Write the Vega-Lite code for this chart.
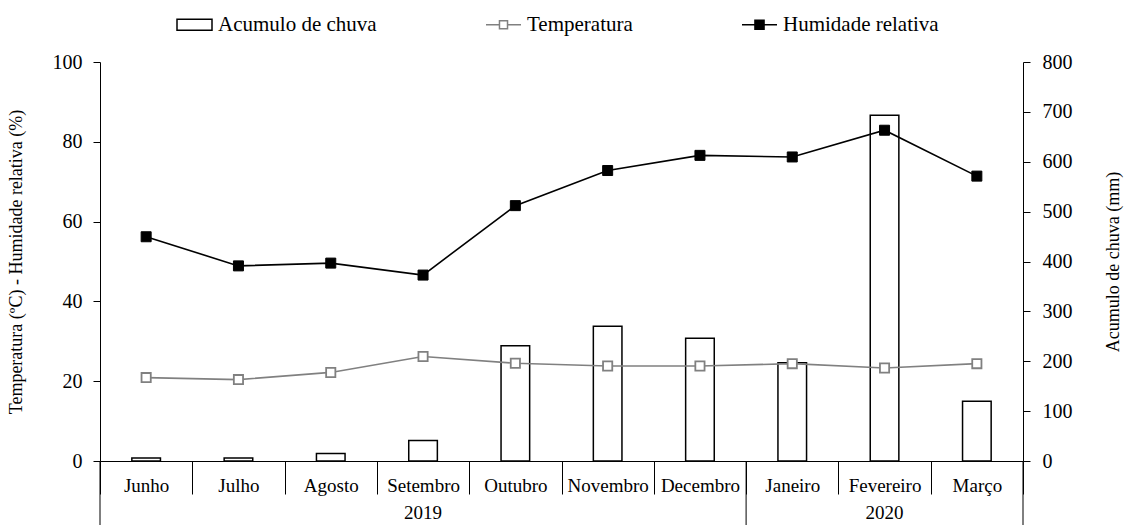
{
  "$schema": "https://vega.github.io/schema/vega-lite/v6.json",
  "width": 923,
  "height": 399,
  "autosize": "none",
  "padding": {"left": 100, "top": 62, "right": 103, "bottom": 64},
  "background": "white",
  "config": {
    "font": "Liberation Serif",
    "view": {"stroke": null},
    "axis": {
      "grid": false,
      "domainColor": "black",
      "domainWidth": 1,
      "tickColor": "black",
      "tickWidth": 1,
      "labelColor": "black",
      "titleColor": "black",
      "labelFont": "Liberation Serif",
      "titleFont": "Liberation Serif",
      "labelFontSize": 20,
      "titleFontSize": 18,
      "titleFontWeight": "normal"
    },
    "legend": {
      "title": null,
      "orient": "none",
      "legendX": 76,
      "legendY": -56,
      "direction": "horizontal",
      "symbolSize": 1225,
      "symbolStrokeWidth": 1.5,
      "labelFont": "Liberation Serif",
      "labelFontSize": 21,
      "labelColor": "black",
      "labelOffset": 5,
      "columnPadding": 106
    }
  },
  "data": {
    "values": [
      {"mes": "Junho", "ano": "2019", "chuva": 6, "Temperatura": 20.9, "Humidade relativa": 56.2},
      {"mes": "Julho", "ano": "2019", "chuva": 6, "Temperatura": 20.4, "Humidade relativa": 48.9},
      {"mes": "Agosto", "ano": "2019", "chuva": 15, "Temperatura": 22.2, "Humidade relativa": 49.6},
      {"mes": "Setembro", "ano": "2019", "chuva": 41, "Temperatura": 26.2, "Humidade relativa": 46.6},
      {"mes": "Outubro", "ano": "2019", "chuva": 231, "Temperatura": 24.5, "Humidade relativa": 64.0},
      {"mes": "Novembro", "ano": "2019", "chuva": 270, "Temperatura": 23.8, "Humidade relativa": 72.8},
      {"mes": "Decembro", "ano": "2019", "chuva": 246, "Temperatura": 23.8, "Humidade relativa": 76.6},
      {"mes": "Janeiro", "ano": "2020", "chuva": 197, "Temperatura": 24.4, "Humidade relativa": 76.2},
      {"mes": "Fevereiro", "ano": "2020", "chuva": 693, "Temperatura": 23.3, "Humidade relativa": 82.9},
      {"mes": "Março", "ano": "2020", "chuva": 120, "Temperatura": 24.4, "Humidade relativa": 71.4}
    ]
  },
  "layer": [
    {
      "mark": {"type": "bar", "filled": false, "fill": "white", "strokeWidth": 1.5, "width": {"band": 0.31}},
      "encoding": {
        "x": {
          "field": "mes",
          "type": "nominal",
          "sort": null,
          "scale": {
            "domain": ["Junho", "Julho", "Agosto", "Setembro", "Outubro", "Novembro", "Decembro", "Janeiro", "Fevereiro", "Março"],
            "paddingInner": 0,
            "paddingOuter": 0
          },
          "axis": {
            "title": null,
            "labelAngle": 0,
            "tickBand": "extent",
            "tickSize": 33,
            "labelBaseline": "middle",
            "labelPadding": -9,
            "labelFontSize": 19
          }
        },
        "y": {
          "field": "chuva",
          "type": "quantitative",
          "scale": {"domain": [0, 800]},
          "axis": {
            "orient": "right",
            "title": "Acumulo de chuva (mm)",
            "values": [0, 100, 200, 300, 400, 500, 600, 700, 800],
            "tickSize": 7,
            "labelPadding": 12,
            "titlePadding": 50,
            "titleAngle": 270
          }
        },
        "color": {
          "datum": "Acumulo de chuva",
          "scale": {
            "domain": ["Acumulo de chuva", "Temperatura", "Humidade relativa"],
            "range": ["black", "#808080", "black"]
          },
          "legend": {
            "title": null,
            "encode": {
              "symbols": {
                "update": {
                  "shape": [
                    {"test": "datum.value === 'Acumulo de chuva'", "value": "M-1,-0.31H1V0.31H-1Z"},
                    {"test": "datum.value === 'Temperatura'", "value": "M-1,0H-0.23M0.23,0H1M-0.23,-0.23H0.23V0.23H-0.23Z"},
                    {"value": "M-1,0H-0.26M0.26,0H1M-0.26,-0.26H0.26V0.26H-0.26Z"}
                  ],
                  "fill": [
                    {"test": "datum.value === 'Humidade relativa'", "value": "black"},
                    {"value": "white"}
                  ],
                  "strokeWidth": {"value": 1.5},
                  "opacity": {"value": 1},
                  "fillOpacity": {"value": 1}
                }
              }
            }
          }
        }
      }
    },
    {
      "layer": [
        {
          "transform": [{"fold": ["Temperatura", "Humidade relativa"], "as": ["serie", "valor"]}],
          "layer": [
            {
              "mark": {"type": "line", "strokeWidth": 1.6},
              "encoding": {
                "x": {"field": "mes", "type": "nominal", "sort": null},
                "y": {
                  "field": "valor",
                  "type": "quantitative",
                  "scale": {"domain": [0, 100]},
                  "axis": {
                    "orient": "left",
                    "title": "Temperatura (ºC) - Humidade relativa (%)",
                    "values": [0, 20, 40, 60, 80, 100],
                    "tickSize": 7,
                    "labelPadding": 11,
                    "titlePadding": 27
                  }
                },
                "color": {
                  "field": "serie",
                  "type": "nominal",
                  "legend": {
                    "title": null,
                    "encode": {
                      "symbols": {
                        "update": {
                          "shape": [
                            {"test": "datum.value === 'Acumulo de chuva'", "value": "M-1,-0.31H1V0.31H-1Z"},
                            {"test": "datum.value === 'Temperatura'", "value": "M-1,0H-0.23M0.23,0H1M-0.23,-0.23H0.23V0.23H-0.23Z"},
                            {"value": "M-1,0H-0.26M0.26,0H1M-0.26,-0.26H0.26V0.26H-0.26Z"}
                          ],
                          "fill": [
                            {"test": "datum.value === 'Humidade relativa'", "value": "black"},
                            {"value": "white"}
                          ],
                          "strokeWidth": {"value": 1.5},
                          "opacity": {"value": 1},
                          "fillOpacity": {"value": 1}
                        }
                      }
                    }
                  }
                }
              }
            },
            {
              "transform": [{"filter": "datum.serie === 'Temperatura'"}],
              "mark": {"type": "point", "shape": "square", "filled": false, "fill": "white", "size": 85, "strokeWidth": 1.8, "opacity": 1},
              "encoding": {
                "x": {"field": "mes", "type": "nominal", "sort": null},
                "y": {"field": "valor", "type": "quantitative", "scale": {"domain": [0, 100]}},
                "color": {"field": "serie", "type": "nominal", "legend": null}
              }
            },
            {
              "transform": [{"filter": "datum.serie === 'Humidade relativa'"}],
              "mark": {"type": "point", "shape": "square", "filled": false, "fill": "black", "size": 100, "strokeWidth": 1, "opacity": 1},
              "encoding": {
                "x": {"field": "mes", "type": "nominal", "sort": null},
                "y": {"field": "valor", "type": "quantitative", "scale": {"domain": [0, 100]}},
                "color": {"field": "serie", "type": "nominal", "legend": null}
              }
            }
          ]
        },
        {
          "transform": [{"filter": "datum.mes === 'Junho' || datum.mes === 'Janeiro'"}],
          "mark": {"type": "rule", "color": "black", "strokeWidth": 1, "clip": false},
          "encoding": {
            "x": {"field": "mes", "type": "nominal", "sort": null, "bandPosition": 0},
            "y": {"datum": 0, "scale": {"domain": [0, 100]}},
            "y2": {"datum": -16.5}
          }
        },
        {
          "transform": [{"filter": "datum.mes === 'Março'"}],
          "mark": {"type": "rule", "color": "black", "strokeWidth": 1, "clip": false},
          "encoding": {
            "x": {"field": "mes", "type": "nominal", "sort": null, "bandPosition": 1},
            "y": {"datum": 0, "scale": {"domain": [0, 100]}},
            "y2": {"datum": -16.5}
          }
        },
        {
          "transform": [{"filter": "datum.mes === 'Setembro' || datum.mes === 'Fevereiro'"}],
          "mark": {"type": "text", "font": "Liberation Serif", "fontSize": 19, "baseline": "middle", "color": "black", "clip": false},
          "encoding": {
            "x": {"field": "mes", "type": "nominal", "sort": null},
            "y": {"datum": -13, "scale": {"domain": [0, 100]}},
            "text": {"field": "ano", "type": "nominal"}
          }
        }
      ]
    }
  ],
  "resolve": {"scale": {"y": "independent"}}
}
